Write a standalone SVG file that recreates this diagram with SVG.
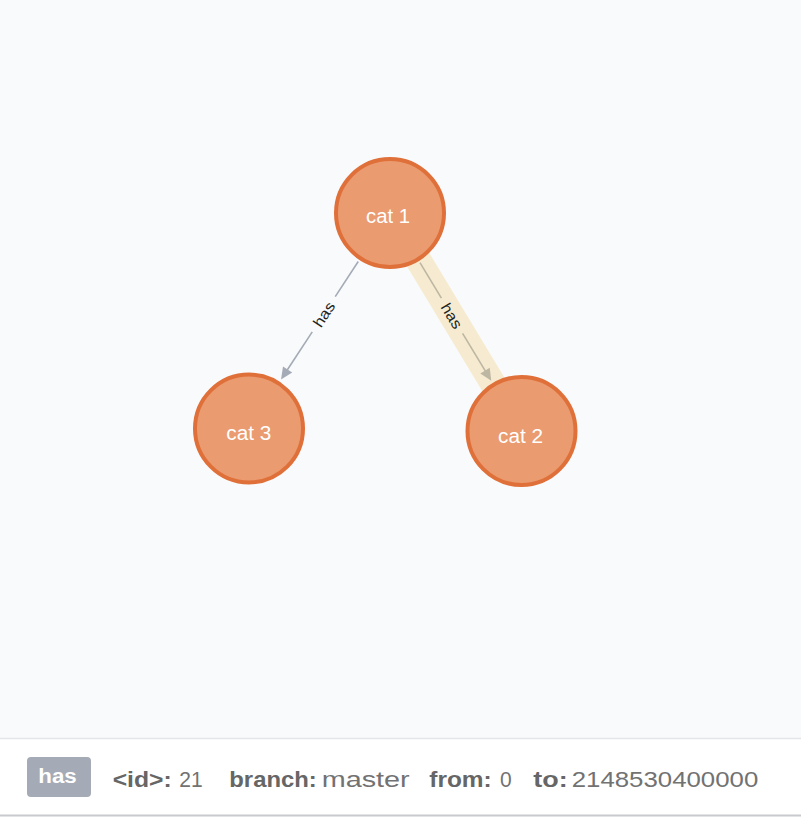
<svg xmlns="http://www.w3.org/2000/svg" width="801" height="817" viewBox="0 0 801 817">
<style>
.node circle{fill:#EA9B70;stroke:#E0703A;stroke-width:4}
.node text{font-family:"Liberation Sans",Arial,sans-serif;font-size:20px;fill:#ffffff;text-anchor:middle}
.elabel{font-family:"Liberation Sans",Arial,sans-serif;font-size:15px;fill:#222;text-anchor:middle;dominant-baseline:central}
.ln{fill:none;stroke-width:1.6}
.k{font-family:"Liberation Sans",Arial,sans-serif;font-size:22px;font-weight:bold;fill:#666}
.v{font-family:"Liberation Sans",Arial,sans-serif;font-size:22px;fill:#727272}
</style>
<rect x="0" y="0" width="801" height="817" fill="#F9FAFB"/>
<g id="connectors">
  <g id="edge-cat1-cat3" transform="translate(390,213) rotate(123.2)">
    <line class="ln" stroke="#A5ABB6" x1="58" y1="0" x2="100" y2="0"/>
    <line class="ln" stroke="#A5ABB6" x1="142" y1="0" x2="188" y2="0"/>
    <polygon points="199,0 187,-5.5 187,5.5" fill="#A5ABB6"/>
    <text class="elabel" x="121" y="0" transform="rotate(180,121,0)" textLength="27" lengthAdjust="spacingAndGlyphs">has</text>
  </g>
  <g id="edge-cat1-cat2" transform="translate(390,213) rotate(58.9)">
    <rect x="0" y="-13" width="254.6" height="26" fill="#F6EBD0"/>
    <line class="ln" stroke="#BDB6A2" x1="58" y1="0" x2="99.5" y2="0"/>
    <line class="ln" stroke="#BDB6A2" x1="140.5" y1="0" x2="185" y2="0"/>
    <polygon points="196,0 184,-5.5 184,5.5" fill="#BDB6A2"/>
    <text class="elabel" x="120" y="0" textLength="27" lengthAdjust="spacingAndGlyphs">has</text>
  </g>
</g>
<g id="cat1" class="node">
  <circle cx="390" cy="213" r="54"/>
  <text x="388" y="223.3" textLength="44" lengthAdjust="spacingAndGlyphs">cat 1</text>
</g>
<g id="cat3" class="node">
  <circle cx="249" cy="428.5" r="54"/>
  <text x="248.8" y="440.3" textLength="45" lengthAdjust="spacingAndGlyphs">cat 3</text>
</g>
<g id="cat2" class="node">
  <circle cx="521.5" cy="431" r="54"/>
  <text x="520.5" y="443.3" textLength="45" lengthAdjust="spacingAndGlyphs">cat 2</text>
</g>
<g id="details">
  <rect x="0" y="738" width="801" height="79" fill="#ffffff"/>
  <line x1="0" y1="738.5" x2="801" y2="738.5" stroke="#E3E5E9" stroke-width="1.5"/>
  <line x1="0" y1="815.5" x2="801" y2="815.5" stroke="#C8CACE" stroke-width="2"/>
  <rect x="27" y="757" width="64" height="40" rx="4" fill="#A5ABB6"/>
  <text x="38.3" y="783" font-family="Liberation Sans,Arial,sans-serif" font-size="20" font-weight="bold" fill="#ffffff" textLength="38.4" lengthAdjust="spacingAndGlyphs">has</text>
  <text class="k" x="112.7" y="786.5" textLength="59" lengthAdjust="spacingAndGlyphs">&lt;id&gt;:</text>
  <text class="v" x="179.3" y="786.5" textLength="23.4" lengthAdjust="spacingAndGlyphs">21</text>
  <text class="k" x="229.3" y="786.5" textLength="87.4" lengthAdjust="spacingAndGlyphs">branch:</text>
  <text class="v" x="321.7" y="786.5" textLength="88" lengthAdjust="spacingAndGlyphs">master</text>
  <text class="k" x="429.3" y="786.5" textLength="62.4" lengthAdjust="spacingAndGlyphs">from:</text>
  <text class="v" x="500" y="786.5" textLength="11.7" lengthAdjust="spacingAndGlyphs">0</text>
  <text class="k" x="533.3" y="786.5" textLength="34.4" lengthAdjust="spacingAndGlyphs">to:</text>
  <text class="v" x="571.7" y="786.5" textLength="186.6" lengthAdjust="spacingAndGlyphs">2148530400000</text>
</g>
</svg>
